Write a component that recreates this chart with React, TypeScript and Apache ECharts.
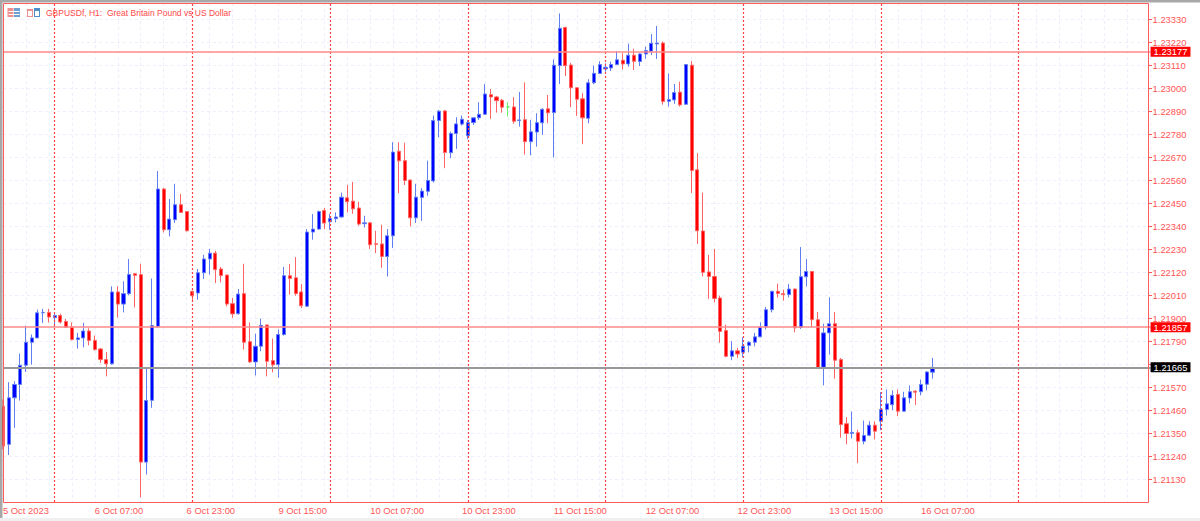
import React, { useEffect, useRef } from "react";
import * as echarts from "echarts";

const title = "GBPUSDf, H1:  Great Britain Pound vs US Dollar";
const timeLabels = ["5 Oct 2023", "6 Oct 07:00", "6 Oct 23:00", "9 Oct 15:00", "10 Oct 07:00", "10 Oct 23:00", "11 Oct 15:00", "12 Oct 07:00", "12 Oct 23:00", "13 Oct 15:00", "16 Oct 07:00"];
const priceTicks = [1.2113, 1.2124, 1.2135, 1.2146, 1.2157, 1.2168, 1.2179, 1.219, 1.2201, 1.2212, 1.2223, 1.2234, 1.2245, 1.2256, 1.2267, 1.2278, 1.2289, 1.23, 1.2311, 1.2322, 1.2333];
const redLevels = [1.23177, 1.21857];
const lastPrice = 1.21665;
const sessionBars = [9, 33, 57, 81, 105, 129, 153, 177];

const opens = [1.21479,
1.21296,1.21519,1.21583,1.21675,1.21785,1.21806,1.21926,1.21928,1.21903,1.21913,
1.21885,1.21857,1.21798,1.21806,1.21839,1.21794,1.21753,1.21702,1.21682,1.22026,
1.21968,1.22018,1.22113,1.22109,1.21211,1.21507,1.21861,1.22519,1.22324,1.22372,
1.22444,1.22411,1.22029,1.22021,1.22118,1.22184,1.22212,1.22136,1.22107,1.2197,
1.21922,1.22018,1.21788,1.21691,1.21766,1.21868,1.21697,1.21678,1.21822,1.22104,
1.22094,1.22026,1.21958,1.22313,1.22327,1.22416,1.22362,1.22377,1.22385,1.22477,
1.22461,1.22428,1.22353,1.22357,1.22257,1.22256,1.22196,1.22295,1.227,1.22655,
1.22562,1.22381,1.22479,1.22508,1.22558,1.22847,1.22893,1.22693,1.22785,1.2283,
1.22774,1.22837,1.2286,1.22877,1.22971,1.2296,1.22944,1.22912,1.22912,1.22847,
1.22851,1.22746,1.22792,1.22836,1.22903,1.22885,1.2311,1.23293,1.23113,1.23004,
1.22951,1.22858,1.23028,1.23072,1.23094,1.23099,1.23115,1.23136,1.23118,1.2316,
1.2313,1.23166,1.23179,1.23214,1.23218,1.22939,1.22946,1.22983,1.22925,1.23112,
1.22611,1.22318,1.22122,1.221,1.21997,1.21841,1.21718,1.21744,1.21737,1.2177,
1.21785,1.21811,1.21858,1.21941,1.22029,1.22018,1.22014,1.2204,1.21856,1.22099,
1.22124,1.21893,1.21665,1.2183,1.21874,1.21702,1.21395,1.21348,1.21352,1.21311,
1.2134,1.21388,1.21407,1.21463,1.21486,1.21535,1.21455,1.21518,1.21551,1.21548,
1.21584,1.21642];

const closes = [1.21288,
1.21519,1.21583,1.21675,1.21785,1.21806,1.21926,1.21928,1.21906,1.21913,1.21882,
1.21857,1.21798,1.21806,1.21839,1.21794,1.2175,1.21702,1.21682,1.22026,1.21968,
1.22018,1.2211,1.22105,1.21211,1.21506,1.21865,1.22519,1.22324,1.22375,1.22444,
1.22407,1.22319,1.22008,1.22118,1.22184,1.22212,1.22133,1.22105,1.21968,1.21921,
1.22016,1.21785,1.21691,1.21766,1.21866,1.21694,1.21677,1.21822,1.22104,1.22091,
1.22018,1.2196,1.22313,1.22327,1.22411,1.22356,1.22378,1.22385,1.2248,1.22458,
1.22424,1.22351,1.22357,1.22252,1.22254,1.22196,1.22295,1.22696,1.22654,1.2256,
1.22381,1.2248,1.22509,1.2256,1.22847,1.22892,1.22694,1.22785,1.22831,1.22853,
1.22837,1.2286,1.22877,1.22974,1.2296,1.22942,1.22911,1.22912,1.22844,1.2285,
1.22746,1.22793,1.22837,1.22901,1.22884,1.23112,1.23289,1.2311,1.23004,1.22949,
1.2286,1.23028,1.23073,1.23115,1.23102,1.23115,1.23138,1.23118,1.2316,1.23131,
1.23166,1.23182,1.23217,1.23218,1.22938,1.22947,1.22981,1.22922,1.23115,1.22608,
1.22319,1.2212,1.221,1.21995,1.21837,1.21718,1.21744,1.21729,1.21766,1.21785,
1.21811,1.21858,1.21941,1.22029,1.22019,1.22013,1.2204,1.21854,1.22099,1.22124,
1.21893,1.21662,1.2183,1.21874,1.21699,1.21391,1.21348,1.21353,1.21311,1.21339,
1.21388,1.21359,1.21463,1.2149,1.21531,1.21455,1.21519,1.21548,1.21546,1.21583,
1.21643,1.21665];

const lows = [1.21272,
1.21245,1.21375,1.21506,1.21643,1.21678,1.21805,1.21878,1.2188,1.21858,1.21874,
1.21854,1.21794,1.21755,1.21761,1.2177,1.21745,1.21686,1.21622,1.21678,1.21904,
1.21928,1.2201,1.21952,1.21042,1.21152,1.21471,1.21854,1.22311,1.22292,1.22356,
1.22404,1.22316,1.21981,1.21989,1.22088,1.22109,1.22069,1.22072,1.21957,1.21902,
1.21917,1.2175,1.21686,1.21626,1.21742,1.21622,1.21641,1.21615,1.21817,1.22013,
1.22008,1.21949,1.21955,1.22276,1.22324,1.22327,1.22324,1.22359,1.22382,1.22407,
1.224,1.22343,1.22335,1.22232,1.22212,1.22142,1.221,1.22236,1.22499,1.22538,
1.2234,1.22356,1.22366,1.22487,1.2255,1.22767,1.22619,1.22667,1.22711,1.22823,
1.22758,1.22826,1.2285,1.22875,1.22855,1.22885,1.22885,1.22866,1.22831,1.22818,
1.22684,1.22681,1.22722,1.22778,1.22834,1.2267,1.23022,1.2306,1.22911,1.22869,
1.22734,1.22834,1.23021,1.2307,1.23081,1.23084,1.23113,1.23092,1.23105,1.23089,
1.23108,1.23143,1.23161,1.23142,1.22923,1.22914,1.22927,1.22914,1.22922,1.22499,
1.22256,1.221,1.21993,1.21976,1.21782,1.21713,1.21699,1.2171,1.21713,1.21737,
1.21766,1.21809,1.21846,1.21928,1.21999,1.21984,1.22,1.21833,1.21849,1.22053,
1.21857,1.21659,1.21579,1.21726,1.21611,1.21328,1.21296,1.21324,1.21206,1.21296,
1.21335,1.2132,1.21364,1.21434,1.2146,1.21431,1.21453,1.21492,1.21484,1.21531,
1.21555,1.21611];

const highs = [1.21511,
1.21594,1.21598,1.21731,1.21865,1.21822,1.21941,1.21945,1.21945,1.21926,1.21922,
1.21897,1.2188,1.2183,1.21878,1.21852,1.21817,1.21758,1.21739,1.22053,1.22053,
1.22077,1.22184,1.22117,1.22161,1.21662,1.2209,1.22605,1.22525,1.22471,1.22544,
1.22496,1.22413,1.22032,1.22136,1.22204,1.22232,1.22223,1.22146,1.22109,1.21997,
1.2204,1.22161,1.2188,1.21826,1.21898,1.2187,1.21803,1.21846,1.22146,1.2216,
1.22193,1.22064,1.22327,1.22399,1.22416,1.22428,1.224,1.22407,1.22502,1.22538,
1.22553,1.22458,1.22391,1.22359,1.22319,1.22348,1.22327,1.22743,1.22743,1.22741,
1.22564,1.22544,1.22523,1.22655,1.22871,1.22898,1.22898,1.22794,1.22863,1.22871,
1.2285,1.22863,1.22935,1.23022,1.22998,1.22965,1.22951,1.22935,1.22959,1.22984,
1.2303,1.2285,1.22882,1.22906,1.2297,1.2314,1.2336,1.23296,1.23124,1.23006,
1.22978,1.23045,1.2311,1.23131,1.23121,1.23129,1.2318,1.23169,1.23215,1.23191,
1.23169,1.23201,1.23261,1.233,1.23226,1.23073,1.23022,1.23033,1.23116,1.23132,
1.22691,1.22502,1.22204,1.22232,1.22008,1.21869,1.2179,1.21758,1.21809,1.2179,
1.2183,1.2188,1.21954,1.22032,1.22066,1.22037,1.22064,1.22042,1.22241,1.22184,
1.22127,1.2193,1.21874,1.22,1.2193,1.2171,1.21426,1.21453,1.21366,1.2141,
1.21407,1.21407,1.21546,1.21559,1.21555,1.21559,1.21548,1.21578,1.21555,1.21607,
1.21646,1.2171];

const FONT = "'Liberation Sans', sans-serif";
const AXIS_RED = "#ff5555";
const UP = "#0000ff";
const DOWN = "#ff0000";
const BAR_SLOTS = 201;
const LABEL_EVERY = 16;

const categories = Array.from({ length: BAR_SLOTS }, (_, k) =>
  k % LABEL_EVERY === 0 ? timeLabels[k / LABEL_EVERY] ?? "" : ""
);

const candles = opens.map((o, i) => {
  const value = [o, closes[i], lows[i], highs[i]];
  return o === closes[i]
    ? { value, itemStyle: { color: "#55ee55", color0: "#55ee55", borderColor: "#66ee66", borderColor0: "#66ee66" } }
    : { value };
});

const priceLabel = (value: number, bg: string) => ({
  yAxis: value,
  label: {
    show: true,
    position: "end",
    distance: 0,
    formatter: value.toFixed(5),
    color: "#ffffff",
    backgroundColor: bg,
    fontFamily: FONT,
    fontSize: 9.4,
    padding: [1, 3, 0, 3],
    lineHeight: 9,
  },
});

function iconRect(x: number, y: number, w: number, h: number, fill: string) {
  return { type: "rect", z: 50, shape: { x, y, width: w, height: h }, style: { fill } };
}

export default function App() {
  const ref = useRef<HTMLDivElement>(null);
  useEffect(() => {
    const chart = echarts.init(ref.current!, null, { renderer: "svg" });
    chart.setOption({
      animation: false,
      backgroundColor: "#ffffff",
      grid: { left: 2.59, top: 3, width: 1148, height: 499, containLabel: false },
      xAxis: {
        type: "category",
        data: categories,
        boundaryGap: false,
        axisLine: { show: false },
        axisTick: { show: false },
        axisLabel: {
          show: true,
          interval: LABEL_EVERY - 1,
          align: "left",
          margin: 4,
          color: AXIS_RED,
          fontFamily: FONT,
          fontSize: 9.4,
        },
        splitLine: { show: true, interval: 3, lineStyle: { color: "#eeeefc", width: 1.2, type: [3, 3] } },
      },
      yAxis: {
        type: "value",
        position: "right",
        offset: -2,
        min: 1.2102,
        max: 1.2341,
        scale: true,
        axisLine: { show: false },
        axisTick: { show: true, length: 3.5, customValues: priceTicks, lineStyle: { color: AXIS_RED } },
        axisLabel: {
          show: true,
          customValues: priceTicks,
          margin: 4,
          color: AXIS_RED,
          fontFamily: FONT,
          fontSize: 9.4,
          formatter: (v: number) => v.toFixed(5),
        },
        splitLine: { show: true, lineStyle: { color: "#eeeefc", width: 1, type: [3, 3] } },
      },
      series: [
        {
          type: "line",
          data: [],
          z: 1,
          silent: true,
          symbol: "none",
          markLine: {
            silent: true,
            symbol: "none",
            label: { show: false },
            lineStyle: { color: "#ff4040", width: 1.2, type: [2, 2] },
            data: sessionBars.map((k) => ({ xAxis: k })),
          },
        },
        {
          type: "candlestick",
          data: candles,
          z: 2,
          barWidth: 3.6,
          itemStyle: {
            color: UP,
            color0: DOWN,
            borderColor: "#5f7ff2",
            borderColor0: "#ff6464",
            borderWidth: 1,
          },
          markLine: {
            silent: true,
            symbol: "none",
            precision: 5,
            lineStyle: { type: "solid", color: "#ff8a8a", width: 1.5 },
            data: [
              ...redLevels.map((v) => priceLabel(v, "#ff0000")),
              { ...priceLabel(lastPrice, "#000000"), lineStyle: { color: "#999999", width: 2, type: "solid" } },
            ],
          },
        },
      ],
      graphic: [
        { type: "rect", z: 40, shape: { x: 0, y: 0, width: 2.5, height: 521 }, style: { fill: "#a8a8a8" } },
        { type: "rect", z: 40, shape: { x: 0, y: 0, width: 1200, height: 2.5 }, style: { fill: "#a8a8a8" } },
        { type: "rect", z: 40, shape: { x: 0, y: 518, width: 1200, height: 3 }, style: { fill: "#f0f0f0" } },
        {
          type: "rect",
          z: 41,
          shape: { x: 3.5, y: 3.5, width: 1145, height: 499 },
          style: { fill: "none", stroke: "#ff5c5c", lineWidth: 1 },
        },
        iconRect(7.5, 8, 6, 9, "#ee8f8f"),
        iconRect(14, 8, 6, 9, "#6f9fd0"),
        iconRect(8.5, 11, 11, 1, "#ffffff"),
        iconRect(8.5, 14, 11, 1, "#ffffff"),
        iconRect(27, 9, 6, 8, "#ee8f8f"),
        iconRect(34, 8, 6, 9, "#4f8fc8"),
        iconRect(28, 11, 4, 5, "#ffffff"),
        iconRect(35, 11, 4, 5, "#ffffff"),
        {
          type: "text",
          z: 50,
          x: 46,
          y: 8.5,
          style: { text: title, fill: "#ff4848", font: `8.5px ${FONT}` },
        },
      ],
    });
    return () => chart.dispose();
  }, []);
  return <div ref={ref} style={{ position: "fixed", left: 0, top: 0, width: 1200, height: 521 }} />;
}
